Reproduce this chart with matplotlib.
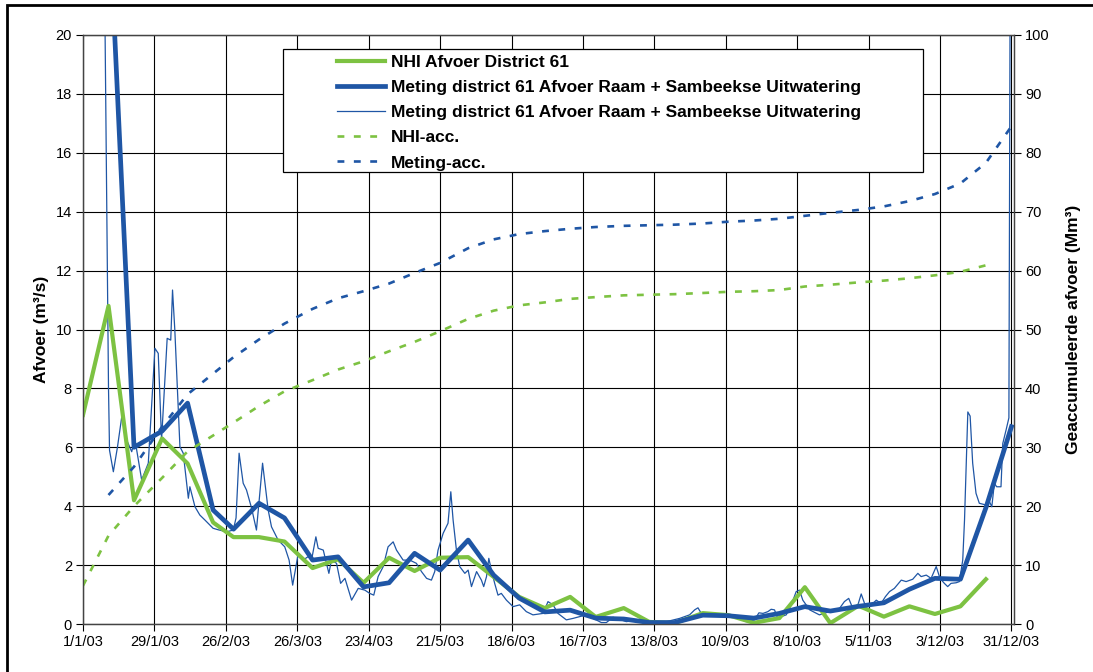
import matplotlib
matplotlib.use("Agg")
import matplotlib.pyplot as plt
from matplotlib.patches import Rectangle

plt.rcParams['font.family'] = ['Liberation Sans', 'DejaVu Sans']

# dag van het jaar (0 = 1/1/03) voor de decaden
dekad_days = [0, 10, 20, 31, 41, 51, 59, 69, 79, 90, 100, 110, 120, 130, 140,
              151, 161, 171, 181, 191, 201, 212, 222, 232, 243, 253, 263,
              273, 283, 293, 304, 314, 324, 334, 344, 354]

nhi_afvoer = [7.1, 10.8, 4.2, 6.3, 5.45, 3.45, 2.95, 2.95, 2.8, 1.9, 2.2, 1.4,
              2.25, 1.8, 2.25, 2.27, 1.6, 0.92, 0.54, 0.92, 0.24, 0.54, 0.07,
              0.03, 0.37, 0.3, 0.04, 0.2, 1.25, 0.03, 0.62, 0.25, 0.6, 0.34,
              0.6, 1.52]

meting_days = dekad_days[1:] + [364]
meting_afvoer = [24.5, 6.0, 6.55, 7.5, 3.87, 3.22, 4.1, 3.6, 2.17, 2.28, 1.26,
                 1.4, 2.4, 1.83, 2.85, 1.66, 0.88, 0.41, 0.47, 0.2, 0.17, 0.05,
                 0.05, 0.3, 0.28, 0.2, 0.36, 0.59, 0.44, 0.6, 0.72, 1.18, 1.55,
                 1.52, 3.95, 6.7]

dag_days = [3, 8, 10, 10.4, 11.9, 13.5, 15.2, 17.1, 19.1, 20.3, 23, 25.6, 28.2,
            29.5, 30.8, 33, 34.4, 35.1, 36, 38, 39.3, 41.3, 41.9, 43.9, 45.8,
            47.8, 51, 53, 56.3, 58.9, 60, 61.2, 62.8, 64.1, 66.1, 68, 70.4,
            72.6, 73.9, 76.5, 79.1, 80.8, 82.2, 84.4, 86.3, 88.3, 89.6, 91.3,
            92.2, 94.2, 96.4, 97.4, 99.4, 101, 102.7, 105.3, 107.9, 110.5,
            112.4, 114, 115.7, 117.7, 119.6, 121.6, 122.9, 125.5, 128.1, 130.7,
            132.7, 134.7, 136.6, 137.9, 139.2, 141.2, 143.1, 144.2, 145.1,
            146.4, 147.7, 149.7, 151, 152.3, 154.3, 156.2, 157.1, 158.2, 159.1,
            160.1, 161.4, 162.7, 164, 166, 168.6, 171.2, 173.8, 176.4, 180.4,
            182.3, 184.3, 186.2, 189.5, 192.1, 194.7, 197.3, 200, 203.2, 205.2,
            207.8, 213, 218.2, 223.4, 228.7, 233.9, 237.8, 239.8, 241.1, 242.4,
            245.7, 250.9, 256.1, 260, 263.3, 265, 266.6, 268.5, 269.8, 271.1,
            272.4, 273.7, 275.7, 277.7, 279.6, 280.9, 282.2, 284.9, 288.7,
            292.7, 296.6, 298.5, 300.2, 301.8, 303.8, 305.1, 306.4, 308.4, 311,
            312.9, 314.6, 316.2, 318.1, 320.8, 322.7, 325.3, 327.3, 328.6,
            330.6, 332.5, 334.5, 336, 337.7, 339, 340.3, 342.3, 343.6, 344.9,
            345.6, 346.9, 347.8, 348.8, 350.1, 351.4, 354, 355.4, 356.3, 357.3,
            358.2, 359.9, 360.6, 361.9, 363, 363.6, 364]
dag_afvoer = [30, 26, 8.0, 5.9, 5.17, 6.0, 7.04, 6.25, 5.85, 6.3, 4.89, 5.46,
              9.36, 9.19, 6.25, 9.7, 9.64, 11.34, 9.98, 6.02, 5.8, 4.27, 4.66,
              3.98, 3.7, 3.53, 3.25, 3.2, 3.13, 3.19, 3.6, 5.8, 4.78, 4.55,
              3.93, 3.19, 5.46, 3.87, 3.3, 2.85, 2.62, 2.17, 1.32, 2.4, 2.17,
              2.29, 2.17, 2.96, 2.57, 2.51, 1.72, 2.17, 2.06, 1.38, 1.55, 0.81,
              1.21, 1.15, 1.04, 0.98, 1.61, 1.95, 2.62, 2.79, 2.51, 2.17, 2.17,
              2.06, 1.78, 1.55, 1.49, 1.78, 2.51, 3.08, 3.42, 4.49, 3.53, 2.51,
              1.95, 1.72, 1.83, 1.27, 1.78, 1.49, 1.27, 1.61, 2.23, 1.83, 1.38,
              0.98, 1.04, 0.81, 0.59, 0.65, 0.42, 0.31, 0.36, 0.76, 0.65, 0.36,
              0.14, 0.19, 0.25, 0.31, 0.19, 0.05, 0.05, 0.23, 0.08, 0.14, 0.08,
              0.08, 0.19, 0.31, 0.48, 0.55, 0.36, 0.27, 0.25, 0.23, 0.08, 0.14,
              0.38, 0.36, 0.42, 0.5, 0.48, 0.19, 0.25, 0.31, 0.65, 1.1, 1.15,
              0.81, 0.48, 0.31, 0.42, 0.53, 0.76, 0.87, 0.53, 0.65, 1.02, 0.7,
              0.59, 0.81, 0.7, 0.93, 1.1, 1.21, 1.49, 1.44, 1.52, 1.72, 1.61,
              1.66, 1.55, 1.95, 1.55, 1.38, 1.27, 1.38, 1.4, 1.44, 2.17, 3.53,
              7.2, 7.06, 5.46, 4.44, 4.1, 4.04, 4.15, 3.98, 4.78, 4.66, 4.66,
              6.13, 6.59, 7.0, 25, 30]

nhi_acc = [6.5, 15.0, 20.0, 24.8, 29.3, 32.0, 34.2, 37.0, 39.5, 41.4, 43.2,
           44.6, 46.3, 47.9, 49.7, 51.8, 53.2, 54.1, 54.6, 55.2, 55.5, 55.8,
           55.9, 56.0, 56.2, 56.4, 56.5, 56.7, 57.3, 57.6, 58.0, 58.3, 58.7,
           59.2, 59.8, 60.9]
meting_acc = [21.9, 26.7, 33.5, 39.0, 42.5, 45.3, 48.3, 51.0, 53.5, 55.3, 56.5,
              57.8, 59.6, 61.3, 63.8, 65.3, 66.2, 66.7, 67.1, 67.4, 67.6, 67.7,
              67.8, 68.0, 68.3, 68.5, 68.8, 69.3, 69.8, 70.3, 70.9, 71.8, 73.0,
              74.8, 78.3, 84.5]

xtick_days = [0, 28, 56, 84, 112, 140, 168, 196, 224, 252, 280, 308, 336, 364]
xtick_labels = ["1/1/03", "29/1/03", "26/2/03", "26/3/03", "23/4/03", "21/5/03",
                "18/6/03", "16/7/03", "13/8/03", "10/9/03", "8/10/03",
                "5/11/03", "3/12/03", "31/12/03"]

green = "#7DC242"
blue = "#1F56A5"

W, H = 1093, 672
fig = plt.figure(figsize=(W / 100, H / 100), dpi=100)
ax = fig.add_axes([83 / W, 1 - 624 / H, (1014 - 83) / W, (624 - 35) / H])
ax2 = ax.twinx()

l3, = ax.plot(dag_days, dag_afvoer, color=blue, lw=0.9, zorder=2,
              label="Meting district 61 Afvoer Raam + Sambeekse Uitwatering")
l1, = ax.plot(dekad_days, nhi_afvoer, color=green, lw=3.0, zorder=3,
              label="NHI Afvoer District 61")
l2, = ax.plot(meting_days, meting_afvoer, color=blue, lw=3.4, zorder=4,
              label="Meting district 61 Afvoer Raam + Sambeekse Uitwatering")
l4, = ax2.plot(dekad_days, nhi_acc, color=green, lw=1.9, dashes=(2.6, 3.6),
               label="NHI-acc.")
l5, = ax2.plot(meting_days, meting_acc, color=blue, lw=1.9, dashes=(2.6, 3.6),
               label="Meting-acc.")

ax.set_xlim(0, 365)
ax.set_ylim(0, 20)
ax2.set_ylim(0, 100)
ax.set_yticks(range(0, 21, 2))
ax2.set_yticks(range(0, 101, 10))
ax.set_xticks(xtick_days)
ax.set_xticklabels(xtick_labels)
ax.grid(True, color="black", lw=0.8)
ax.set_axisbelow(True)

for a in (ax, ax2):
    a.tick_params(labelsize=10.5, length=5, width=0.8, color="black", pad=3)
    for s in a.spines.values():
        s.set_color("#444444")
        s.set_linewidth(0.9)

ax.set_ylabel("Afvoer (m³/s)", fontsize=12.5, fontweight="bold", labelpad=5)
ax2.set_ylabel("Geaccumuleerde afvoer (Mm³)", fontsize=12.5, fontweight="bold",
               labelpad=12)

# legenda met kader
fig.patches.append(Rectangle((283 / W, 1 - 172 / H), (923 - 283) / W, (172 - 49) / H,
                             transform=fig.transFigure, facecolor="white",
                             edgecolor="black", lw=0.9, zorder=10))
leg = fig.legend(handles=[l1, l2, l3, l4, l5], loc="upper left",
                 bbox_to_anchor=(337 / W, 1 - 54.5 / H), bbox_transform=fig.transFigure,
                 frameon=False, prop={"size": 12.5, "weight": "bold"},
                 handlelength=2.75, handletextpad=0.35, labelspacing=0.58,
                 borderpad=0, borderaxespad=0)
leg.set_zorder(11)

# buitenkader
fig.patches.append(Rectangle((7 / W, -0.1), 1.2, 1.1 - 5.5 / H,
                             transform=fig.transFigure, fill=False,
                             edgecolor="black", lw=2))

fig.savefig("out.png", dpi=100)
